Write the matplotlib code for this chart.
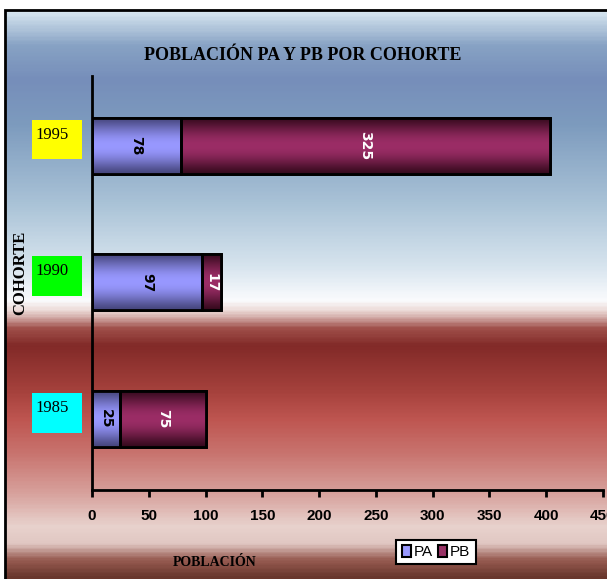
import numpy as np
import matplotlib.pyplot as plt
from matplotlib.patches import Rectangle, Patch
from matplotlib.colors import LinearSegmentedColormap
import matplotlib.transforms as mtransforms

# data
cohortes = ['1985', '1990', '1995']
pa = [25, 97, 78]
pb = [75, 17, 325]
box_colors = ['#00ffff', '#00ff00', '#ffff00']
xticks = [0, 50, 100, 150, 200, 250, 300, 350, 400, 450]

narrow = ['Liberation Sans Narrow', 'Liberation Sans', 'DejaVu Sans']
serif = ['Liberation Serif', 'DejaVu Serif']

W, H = 607, 579
fig = plt.figure(figsize=(W / 100, H / 100), dpi=100)

# background gradient inside the frame
bg_stops = [(0.00, (215, 230, 240)), (0.06, (135, 162, 196)), (0.12, (118, 142, 186)),
            (0.20, (125, 155, 190)), (0.34, (170, 195, 215)), (0.45, (215, 228, 238)),
            (0.51, (250, 251, 253)), (0.53, (235, 215, 212)), (0.56, (160, 80, 75)),
            (0.59, (130, 42, 40)), (0.67, (165, 65, 60)), (0.72, (190, 85, 80)),
            (0.78, (200, 115, 110)), (0.85, (215, 160, 155)), (0.91, (232, 210, 205)),
            (0.94, (225, 200, 195)), (0.97, (150, 90, 80)), (1.00, (105, 55, 45))]
bg_cmap = LinearSegmentedColormap.from_list('bg', [(p, np.array(c) / 255) for p, c in bg_stops])
fx0 = 5 / W
fy1 = 1 - 10 / H
bg = fig.add_axes([fx0, 0, 1 - fx0, fy1])
bg.imshow(np.linspace(0, 1, 400).reshape(-1, 1), cmap=bg_cmap, aspect='auto',
          extent=[0, 1, 0, 1], origin='upper')
bg.axis('off')
fig.patches.append(Rectangle((fx0, -0.01), 1.1, fy1 + 0.01, transform=fig.transFigure,
                             fill=False, edgecolor='black', lw=2, zorder=5))

# main axes
ax = fig.add_axes([92 / W, 1 - 490 / H, 511 / W, 414 / H])
ax.patch.set_alpha(0)
y = np.arange(len(cohortes))
bh = 0.41

def grad_img(center, edge):
    t = np.linspace(0, 1, 60)
    k = (np.sin(np.pi * t) ** 1.3)[:, None]
    c = np.array(edge) / 255 * (1 - k) + np.array(center) / 255 * k
    return c.reshape(-1, 1, 3)

b1 = ax.barh(y, pa, height=bh, color='#9999ff', edgecolor='black', lw=2, zorder=2)
b2 = ax.barh(y, pb, left=pa, height=bh, color='#993366', edgecolor='black', lw=2, zorder=2)
for bars, cen, edg in [(b1, (152, 152, 255), (70, 70, 125)), (b2, (155, 45, 102), (55, 10, 30))]:
    img = grad_img(cen, edg)
    for r in bars:
        im = ax.imshow(img, extent=[r.get_x(), r.get_x() + r.get_width(), r.get_y(), r.get_y() + r.get_height()],
                       aspect='auto', zorder=2.5, interpolation='bilinear')
        im.set_clip_path(r)
ax.barh(y, pa, height=bh, fill=False, edgecolor='black', lw=2, zorder=3)
ax.barh(y, pb, left=pa, height=bh, fill=False, edgecolor='black', lw=2, zorder=3)
ax.bar_label(b1, label_type='center', rotation=-90, color='black', fontweight='bold', fontsize=10, zorder=4)
ax.bar_label(b2, label_type='center', rotation=-90, color='white', fontweight='bold', fontsize=10, zorder=4)

ax.set_xlim(0, 450)
ax.set_ylim(-0.52, 2.51)
ax.set_xticks(xticks)
ax.set_xticklabels([str(v) for v in xticks], family=narrow, fontweight='bold', fontsize=11)
ax.tick_params(axis='x', length=5, width=2, pad=9, direction='out')
ax.set_yticks([])
for s in ['top', 'right']:
    ax.spines[s].set_visible(False)
for s in ['left', 'bottom']:
    ax.spines[s].set_linewidth(2)

# cohort label boxes
tr = mtransforms.blended_transform_factory(ax.transAxes, ax.transData)
for yi, lab, col in zip(y, cohortes, box_colors):
    ax.add_patch(Rectangle((-60 / 511, yi - 0.1), 50 / 511, 0.29, transform=tr,
                           facecolor=col, edgecolor='none', clip_on=False))
    ax.text(-57 / 511, yi + 0.08, lab, transform=tr, family=serif, fontsize=12,
            ha='left', va='center', clip_on=False)

fig.text(303 / W, 1 - 56 / H, 'POBLACIÓN PA Y PB POR COHORTE', family=serif,
         fontweight='bold', fontsize=13, ha='center', va='center')
fig.text(215 / W, 1 - 563 / H, 'POBLACIÓN', family=serif, fontweight='bold',
         fontsize=10, ha='center', va='center')
fig.text(20 / W, 1 - 273 / H, 'COHORTE', family=serif, fontweight='bold',
         fontsize=12, ha='center', va='center', rotation=90)

handles = [Patch(facecolor='#9999ff', edgecolor='black', lw=1.5, label='PA'),
           Patch(facecolor='#993366', edgecolor='black', lw=1.5, label='PB')]
leg = fig.legend(handles=handles, ncol=2, loc='center', bbox_to_anchor=(436 / W, 1 - 552 / H),
                 prop={'family': narrow, 'size': 11}, handlelength=0.6, handleheight=0.8,
                 handletextpad=0.2, columnspacing=0.3, borderpad=0.35, fancybox=False,
                 framealpha=1, edgecolor='black')
leg.get_frame().set_linewidth(1.5)

fig.savefig('out.png', dpi=100)
